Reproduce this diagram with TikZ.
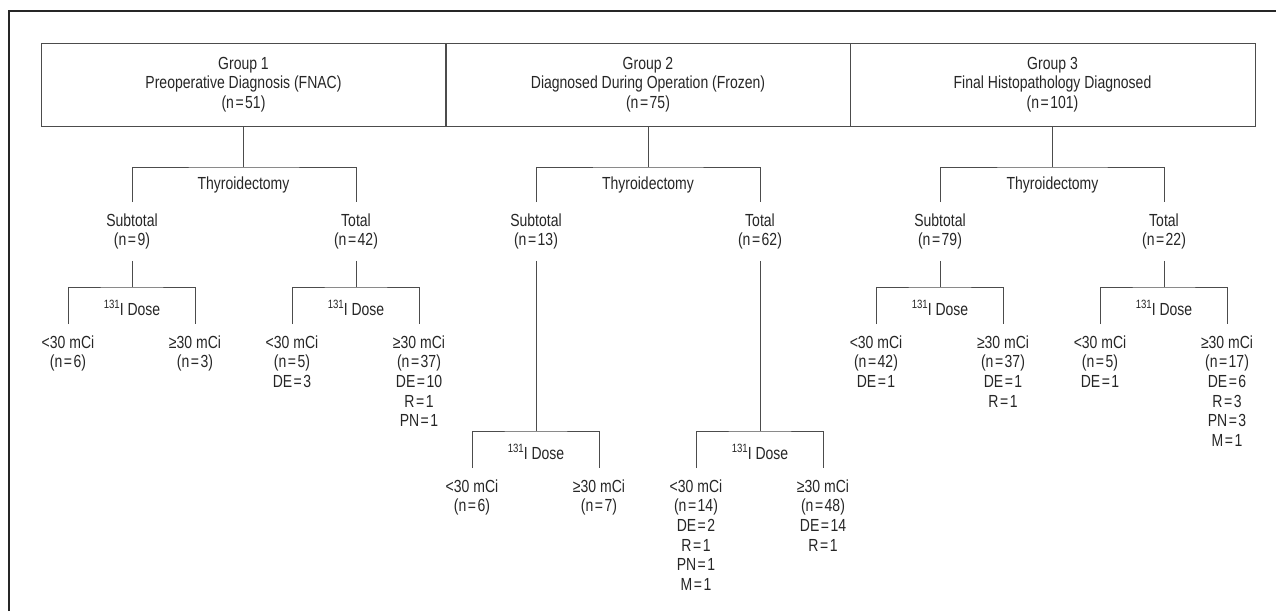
\documentclass[tikz,border=0pt]{standalone}
\usepackage{fontspec}
\setmainfont{Liberation Sans}[FakeStretch=0.8]
\usepackage{tikz}
\newcommand{\sups}[1]{\raisebox{0.42em}{\fontsize{12}{12}\selectfont #1}}
\newcommand{\eqs}{\kern1.5pt=\kern1.5pt}

\begin{document}
\begin{tikzpicture}[x=1pt,y=-1pt,line width=0.8pt,
	every node/.style={font=\fontsize{17.5}{19.7}\selectfont,text=black!85,align=center},
	grp/.style={draw=black!70,minimum width=405pt,minimum height=83pt,inner sep=0pt},
	branch/.style={anchor=north,inner xsep=0pt,inner ysep=11pt},
	link/.style={draw=black!70}]

	\useasboundingbox (0,0) rectangle (1276,611);
	\coordinate (fa) at (9,611);
	\coordinate (fb) at (9,11);
	\coordinate (fc) at (1276,11);
	\draw[line width=1.3pt,black!85] (fa) -- (fb) -- (fc);

	\node[grp] (g1) at (243.5,84.5) {Group 1\\Preoperative Diagnosis (FNAC)\\(n\eqs 51)};
	\node[grp] (g2) at (648,84.5) {Group 2\\Diagnosed During Operation (Frozen)\\(n\eqs 75)};
	\node[grp] (g3) at (1052.5,84.5) {Group 3\\Final Histopathology Diagnosed\\(n\eqs 101)};

	\coordinate (g1j) at (243.5,167);
	\node (g1t) at (243.5,185) {Thyroidectomy};
	\node[branch] (g1s) at (132,202) {Subtotal\\(n\eqs 9)};
	\node[branch] (g1T) at (356,202) {Total\\(n\eqs 42)};
	\draw[link] (g1.south) -- (g1j);
	\draw[link] (g1s.north) |- (g1j) -| (g1T.north);

	\coordinate (g1sj) at (132,287);
	\node (g1sd) at (132,308) {\sups{131}I Dose};
	\node[branch] (g1sa) at (68,324) {<30 mCi\\(n\eqs 6)};
	\node[branch] (g1sb) at (195,324) {≥30 mCi\\(n\eqs 3)};
	\draw[link] (g1s.south) -- (g1sj);
	\draw[link] (g1sa.north) |- (g1sj) -| (g1sb.north);

	\coordinate (g1Tj) at (356,287);
	\node (g1Td) at (356,308) {\sups{131}I Dose};
	\node[branch] (g1Ta) at (292,324) {<30 mCi\\(n\eqs 5)\\DE\eqs 3};
	\node[branch] (g1Tb) at (419,324) {≥30 mCi\\(n\eqs 37)\\DE\eqs 10\\R\eqs 1\\PN\eqs 1};
	\draw[link] (g1T.south) -- (g1Tj);
	\draw[link] (g1Ta.north) |- (g1Tj) -| (g1Tb.north);

	\coordinate (g2j) at (648,167);
	\node (g2t) at (648,185) {Thyroidectomy};
	\node[branch] (g2s) at (536,202) {Subtotal\\(n\eqs 13)};
	\node[branch] (g2T) at (760,202) {Total\\(n\eqs 62)};
	\draw[link] (g2.south) -- (g2j);
	\draw[link] (g2s.north) |- (g2j) -| (g2T.north);

	\coordinate (g2sj) at (536,431);
	\node (g2sd) at (536,452) {\sups{131}I Dose};
	\node[branch] (g2sa) at (472,468) {<30 mCi\\(n\eqs 6)};
	\node[branch] (g2sb) at (599,468) {≥30 mCi\\(n\eqs 7)};
	\draw[link] (g2s.south) -- (g2sj);
	\draw[link] (g2sa.north) |- (g2sj) -| (g2sb.north);

	\coordinate (g2Tj) at (760,431);
	\node (g2Td) at (760,452) {\sups{131}I Dose};
	\node[branch] (g2Ta) at (696,468) {<30 mCi\\(n\eqs 14)\\DE\eqs 2\\R\eqs 1\\PN\eqs 1\\M\eqs 1};
	\node[branch] (g2Tb) at (823,468) {≥30 mCi\\(n\eqs 48)\\DE\eqs 14\\R\eqs 1};
	\draw[link] (g2T.south) -- (g2Tj);
	\draw[link] (g2Ta.north) |- (g2Tj) -| (g2Tb.north);

	\coordinate (g3j) at (1052.5,167);
	\node (g3t) at (1052.5,185) {Thyroidectomy};
	\node[branch] (g3s) at (940,202) {Subtotal\\(n\eqs 79)};
	\node[branch] (g3T) at (1164,202) {Total\\(n\eqs 22)};
	\draw[link] (g3.south) -- (g3j);
	\draw[link] (g3s.north) |- (g3j) -| (g3T.north);

	\coordinate (g3sj) at (940,287);
	\node (g3sd) at (940,308) {\sups{131}I Dose};
	\node[branch] (g3sa) at (876,324) {<30 mCi\\(n\eqs 42)\\DE\eqs 1};
	\node[branch] (g3sb) at (1003,324) {≥30 mCi\\(n\eqs 37)\\DE\eqs 1\\R\eqs 1};
	\draw[link] (g3s.south) -- (g3sj);
	\draw[link] (g3sa.north) |- (g3sj) -| (g3sb.north);

	\coordinate (g3Tj) at (1164,287);
	\node (g3Td) at (1164,308) {\sups{131}I Dose};
	\node[branch] (g3Ta) at (1100,324) {<30 mCi\\(n\eqs 5)\\DE\eqs 1};
	\node[branch] (g3Tb) at (1227,324) {≥30 mCi\\(n\eqs 17)\\DE\eqs 6\\R\eqs 3\\PN\eqs 3\\M\eqs 1};
	\draw[link] (g3T.south) -- (g3Tj);
	\draw[link] (g3Ta.north) |- (g3Tj) -| (g3Tb.north);

\end{tikzpicture}
\end{document}
